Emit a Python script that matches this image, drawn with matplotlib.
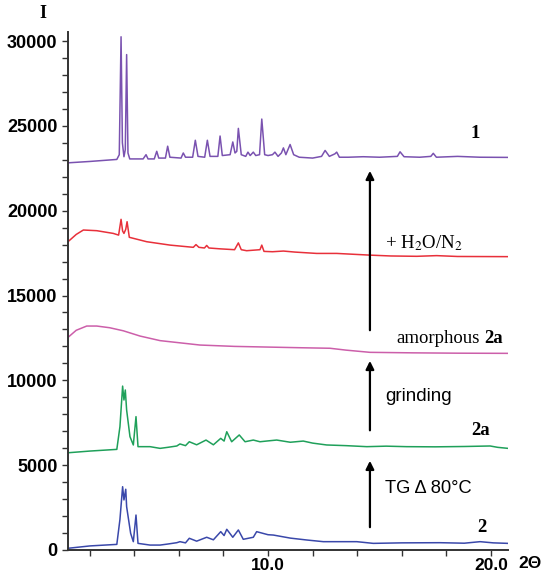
import matplotlib.pyplot as plt
from matplotlib.ticker import MultipleLocator, FixedLocator, FixedFormatter

# ==========================================
# DATA (2Theta vs intensity)
# ==========================================

tt_1 = [1.03, 2.0, 3.22, 3.33, 3.41, 3.47, 3.54, 3.60, 3.66, 3.72, 3.80,
        4.40, 4.53, 4.62, 4.90, 5.01, 5.10, 5.40, 5.50, 5.60, 6.10, 6.20, 6.30,
        6.62, 6.74, 6.86, 7.16, 7.28, 7.40, 7.75, 7.85, 7.95, 8.30, 8.42, 8.52,
        8.60, 8.67, 8.80, 9.00, 9.10, 9.20, 9.34, 9.45, 9.62, 9.72, 9.85, 10.0,
        10.2, 10.31, 10.45, 10.6, 10.69, 10.8, 10.99, 11.15, 11.4, 12.0, 12.4,
        12.56, 12.75, 13.0, 13.08, 13.2, 13.6, 14.27, 15.0, 15.8, 15.92, 16.1,
        16.8, 17.3, 17.41, 17.55, 18.5, 19.5, 20.76]
int_1 = [22820, 22900, 23020, 23300, 30250, 24000, 23180, 23600, 29200, 23400, 23050,
         23050, 23300, 23050, 23050, 23500, 23100, 23100, 23800, 23150, 23100, 23400, 23150,
         23150, 24150, 23200, 23150, 24150, 23200, 23200, 24400, 23250, 23300, 24050, 23400,
         23500, 24850, 23300, 23200, 23450, 23250, 23450, 23250, 23300, 25400, 23300, 23250,
         23300, 23450, 23200, 23400, 23700, 23300, 23900, 23300, 23150, 23100, 23200,
         23550, 23200, 23350, 23450, 23150, 23150, 23180, 23150, 23200, 23470, 23180,
         23150, 23200, 23380, 23150, 23200, 23150, 23140]

tt_red = [1.03, 1.4, 1.72, 2.32, 3.06, 3.30, 3.41, 3.48, 3.54, 3.62, 3.68, 3.78,
          4.56, 5.61, 6.65, 6.77, 6.9, 7.15, 7.25, 7.35, 7.85, 8.5, 8.67, 8.8,
          9.04, 9.64, 9.72, 9.82, 10.2, 10.69, 11.2, 12.18, 13.08, 14.57, 15.5,
          16.67, 17.56, 18.5, 20.76]
int_red = [18170, 18600, 18860, 18820, 18660, 18560, 19490, 18800, 18660, 18900, 19350, 18430,
           18170, 17970, 17840, 18000, 17840, 17800, 17950, 17800, 17750, 17700, 18100, 17700,
           17640, 17700, 17970, 17600, 17580, 17620, 17560, 17480, 17480, 17380, 17330,
           17310, 17350, 17300, 17290]

tt_amo = [1.03, 1.4, 1.87, 2.32, 2.9, 3.51, 4.26, 5.16, 6.95, 8.5, 10.0, 11.5,
          12.78, 13.5, 14.57, 16.5, 18.5, 20.76]
int_amo = [12530, 12950, 13200, 13200, 13100, 12920, 12610, 12340, 12080, 12000, 11960, 11920,
           11890, 11780, 11650, 11620, 11600, 11590]

tt_2a = [1.03, 2.0, 3.22, 3.36, 3.48, 3.54, 3.60, 3.66, 3.81, 3.96, 4.08, 4.17,
         4.71, 5.16, 5.5, 5.91, 6.05, 6.30, 6.47, 6.80, 7.22, 7.55, 7.88, 8.03,
         8.15, 8.37, 8.71, 8.97, 9.34, 9.64, 10.0, 10.39, 11.0, 11.58, 12.0, 12.63,
         13.5, 14.43, 15.3, 16.22, 17.5, 18.8, 19.96, 20.3, 20.76]
int_2a = [5730, 5830, 5930, 7270, 9660, 8840, 9430, 8250, 6680, 6190, 7860, 6090,
          6090, 5990, 6050, 6130, 6250, 6150, 6380, 6200, 6480, 6200, 6580, 6420,
          6970, 6380, 6780, 6380, 6480, 6380, 6430, 6480, 6350, 6420, 6300, 6190,
          6150, 6090, 6120, 6090, 6080, 6100, 6130, 6050, 5990]

tt_2 = [1.03, 2.02, 3.22, 3.36, 3.48, 3.54, 3.62, 3.66, 3.84, 3.96, 4.08, 4.17,
        4.71, 5.16, 5.5, 5.91, 6.05, 6.30, 6.47, 6.80, 7.25, 7.55, 7.88, 8.03,
        8.15, 8.42, 8.67, 8.89, 9.34, 9.49, 10.0, 10.24, 11.0, 11.73, 12.48, 13.98,
        14.72, 16.0, 17.71, 18.8, 19.51, 20.1, 20.76]
int_2 = [100, 240, 330, 1800, 3730, 2950, 3580, 2550, 980, 490, 2060, 390,
         290, 290, 350, 430, 490, 420, 690, 520, 750, 600, 1080, 850,
         1220, 750, 1180, 630, 750, 1080, 900, 880, 700, 590, 490, 490,
         390, 420, 430, 400, 490, 420, 390]

x_ticks = [2, 4, 6, 8, 10, 12, 14, 16, 18, 20]
x_tick_labels = ['', '', '', '', '10.0', '', '', '', '', '20.0']

# ==========================================
# FIGURE
# ==========================================

fig = plt.figure(figsize=(5.5, 5.75), dpi=100)
ax = fig.add_axes([0.1236, 0.0435, 0.80, 0.9014])

ax.plot(tt_1, int_1, color='#7a52b0', lw=1.1)
ax.plot(tt_red, int_red, color='#e8303a', lw=1.1)
ax.plot(tt_amo, int_amo, color='#cc5faa', lw=1.1)
ax.plot(tt_2a, int_2a, color='#1fa05a', lw=1.1)
ax.plot(tt_2, int_2, color='#3a48aa', lw=1.1)

ax.set_xlim(1.03, 20.76)
ax.set_ylim(0, 30550)

for s in ['top', 'right']:
    ax.spines[s].set_visible(False)
for s in ['left', 'bottom']:
    ax.spines[s].set_linewidth(1.4)
    ax.spines[s].set_color('#333333')

ax.xaxis.set_major_locator(FixedLocator(x_ticks))
ax.xaxis.set_major_formatter(FixedFormatter(x_tick_labels))
ax.yaxis.set_major_locator(MultipleLocator(5000))
ax.yaxis.set_minor_locator(MultipleLocator(1000))
ax.tick_params(axis='both', which='both', direction='out', length=4,
               width=1.0, color='#333333')
ax.tick_params(axis='x', pad=1.5)
for lab in ax.get_yticklabels():
    lab.set_fontfamily('Liberation Sans')
    lab.set_fontweight('bold')
    lab.set_fontsize(13)
for lab in ax.get_xticklabels():
    lab.set_fontfamily('Liberation Sans')
    lab.set_fontweight('bold')
    lab.set_fontsize(12.5)

# ==========================================
# ARROWS AND LABELS
# ==========================================

arr = dict(arrowstyle='-|>', color='black', lw=1.6, mutation_scale=12)
ax.annotate('', xy=(14.57, 22510), xytext=(14.57, 12790), arrowprops=arr)
ax.annotate('', xy=(14.57, 11310), xytext=(14.57, 6890), arrowprops=arr)
ax.annotate('', xy=(14.57, 5420), xytext=(14.57, 1180), arrowprops=arr)

serif = 'Liberation Serif'
fs = 13.5
ax.text(19.28, 24570, '1', family=serif, fontweight='bold', fontsize=fs, ha='center', va='center')
ax.text(15.25, 18090, r'+ H$_2$O/N$_2$', family=serif, fontsize=fs, ha='left', va='center',
        math_fontfamily='stix')
ax.text(19.5, 12490, 'amorphous', family=serif, fontsize=fs, ha='right', va='center')
ax.text(20.54, 12490, '2a', family=serif, fontweight='bold', fontsize=fs, ha='right', va='center')
ax.text(15.25, 9020, 'grinding', family='Liberation Sans', fontsize=fs, ha='left', va='center')
ax.text(19.54, 7070, '2a', family=serif, fontweight='bold', fontsize=fs, ha='center', va='center')
ax.text(15.25, 3650, 'TG \u0394 80\u00b0C', family='Liberation Sans', fontsize=13.2, ha='left', va='center')
ax.text(19.6, 1300, '2', family=serif, fontweight='bold', fontsize=fs, ha='center', va='center')

fig.text(43 / 550, 1 - 14 / 575, 'I', family=serif, fontweight='bold', fontsize=13, ha='center', va='center')
fig.text(530 / 550, 1 - 564 / 575, '2\u0398', family='Liberation Sans', fontweight='bold',
         fontsize=12.5, ha='center', va='center')

fig.savefig('out.png', dpi=100)
